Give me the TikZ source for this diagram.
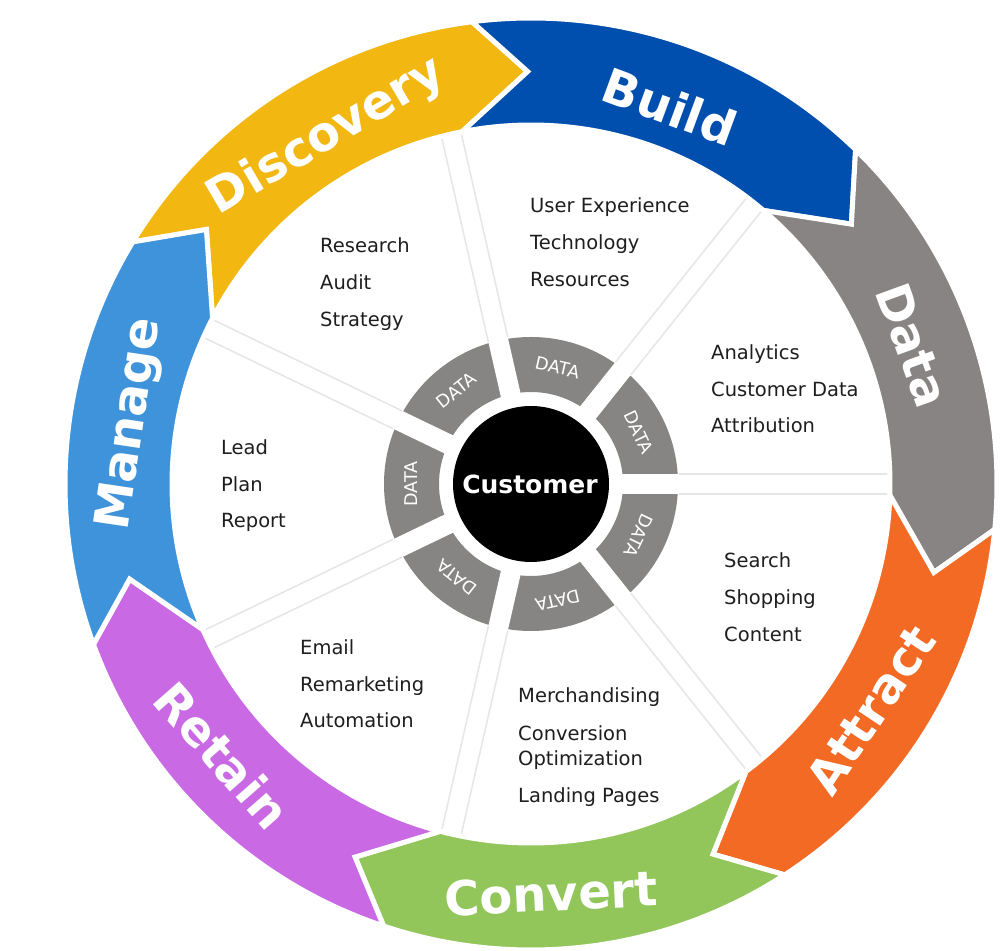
\documentclass[tikz,border=0pt]{standalone}
\usepackage{fontspec}
\setmainfont{DejaVu Sans}
\definecolor{cdisc}{HTML}{F2B711}
\definecolor{cbuild}{HTML}{004EAD}
\definecolor{cdata}{HTML}{878483}
\definecolor{cattr}{HTML}{F26A24}
\definecolor{cconv}{HTML}{92C65A}
\definecolor{cret}{HTML}{C96AE4}
\definecolor{cman}{HTML}{3F93DB}
\definecolor{ringgray}{HTML}{878584}
\definecolor{spokegray}{HTML}{E6E6E6}
\definecolor{txt}{HTML}{1E1E1E}
\begin{document}
\begin{tikzpicture}[x=1pt,y=1pt,
  item/.style={anchor=base west, inner sep=0pt, text=txt, font=\fontsize{19.5}{23}\selectfont},
  seglabel/.style={text=white, inner sep=0pt, font=\fontsize{48}{56}\selectfont\bfseries},
  datalabel/.style={text=white, inner sep=0pt, font=\fontsize{17.5}{20}\selectfont},
  spoke/.style={draw=spokegray, line width=1.5pt},
  segment/.style={fill=#1, draw=white, line width=5pt, line join=miter}
]
\useasboundingbox (0,0) rectangle (1000,950);
\fill[white] (0,0) rectangle (1000,950);
\begin{scope}[shift={(531,466)}]
  % gray DATA ring
  \fill[ringgray, even odd rule] (0,0) circle (147) (0,0) circle (92);
  \foreach \k in {0,...,6}{
    \pgfmathsetmacro\a{51.4286*\k}
    \fill[white, rotate=\a] (80,-10) rectangle (156,10);
  }
  % spokes
  \foreach \k in {0,...,6}{
    \pgfmathsetmacro\a{51.4286*\k}
    \begin{scope}[rotate=\a]
      \draw[spoke] (148,10) -- (362,10);
      \draw[spoke] (148,-10) -- (362,-10);
    \end{scope}
  }
  % customer
  \fill[black] (0,0) circle (78);
  \node[text=white, inner sep=0pt, font=\fontsize{25}{30}\selectfont\bfseries] (cust) at (-1,0) {Customer};
  % DATA labels
  \foreach \k in {0,...,6}{
    \pgfmathsetmacro\m{25.7143+51.4286*\k}
    \pgfmathsetmacro\r{\m-90}
    \node[datalabel, rotate=\r] (data\k) at (\m:119.5) {DATA};
  }
  % ring segments
  \foreach \k/\col in {0/cdisc,1/cbuild,2/cdata,3/cattr,4/cconv,5/cret,6/cman}{
    \pgfmathsetmacro\pa{150.6-51.4286*\k}
    \pgfmathsetmacro\pb{\pa-51.4286}
    \pgfmathsetmacro\oa{\pa-1.9}
    \pgfmathsetmacro\ob{\pb-1.9}
    \pgfmathsetmacro\ia{\pa+1.9}
    \pgfmathsetmacro\ib{\pb+1.9}
    \pgfmathsetmacro\ta{\pa-8.7}
    \pgfmathsetmacro\tb{\pb-8.7}
    \path[segment=\col] (\oa:466) arc[start angle=\oa, end angle=\ob, radius=466]
      -- (\tb:412.5) -- (\ib:359) arc[start angle=\ib, end angle=\ia, radius=359]
      -- (\ta:412.5) -- cycle;
  }
  % segment labels
  \node[seglabel, rotate=30.5] (ldisc) at (120.5:403) {Discovery};
  \node[seglabel, rotate=-20.2] (lbuild) at (69.8:402) {Build};
  \node[seglabel, rotate=-70] (ldata) at (20:406) {Data};
  \node[seglabel, rotate=56.4] (lattr) at (-33.6:408) {Attract};
  \node[seglabel, rotate=2.8] (lconv) at (-87.2:410) {Convert};
  \node[seglabel, rotate=-48.7] (lret) at (-138.7:411) {Retain};
  \node[seglabel, rotate=81.5] (lman) at (171.5:404) {Manage};
\end{scope}
% sector texts
\node[item] (b1) at (530,737) {User Experience};
\node[item] (b2) at (530,700.2) {Technology};
\node[item] (b3) at (530,663.4) {Resources};
\node[item] (r1) at (320,697) {Research};
\node[item] (r2) at (320,660) {Audit};
\node[item] (r3) at (320,623) {Strategy};
\node[item] (a1) at (711,590.5) {Analytics};
\node[item] (a2) at (711,553.7) {Customer Data};
\node[item] (a3) at (711,517) {Attribution};
\node[item] (m1) at (221,495) {Lead};
\node[item] (m2) at (221,458) {Plan};
\node[item] (m3) at (221,422) {Report};
\node[item] (s1) at (724,382) {Search};
\node[item] (s2) at (724,345) {Shopping};
\node[item] (s3) at (724,308) {Content};
\node[item] (e1) at (300,295) {Email};
\node[item] (e2) at (300,258) {Remarketing};
\node[item] (e3) at (300,222) {Automation};
\node[item] (c1) at (518,247) {Merchandising};
\node[item] (c2) at (518,209) {Conversion};
\node[item] (c3) at (518,185) {Optimization};
\node[item] (c4) at (518,148) {Landing Pages};
\end{tikzpicture}
\end{document}
